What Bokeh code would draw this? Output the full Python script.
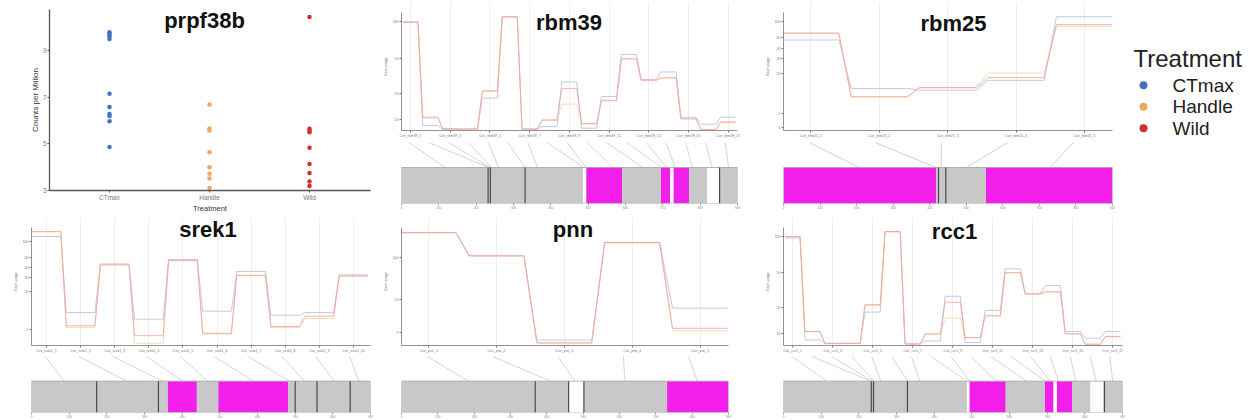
from bokeh.plotting import figure
from bokeh.layouts import row, column
from bokeh.models import FixedTicker, Label
from bokeh.core.properties import value
from bokeh.embed import file_html
from bokeh.resources import INLINE

FONT = "Liberation Sans"

# ---------------- data ----------------
treatments = ["CTmax", "Handle", "Wild"]
cpm_ctmax = [9.78, 9.69, 9.60, 9.49, 7.14, 6.57, 6.28, 6.19, 5.97, 4.86]
cpm_handle = [6.68, 5.65, 5.57, 4.64, 4.00, 3.72, 3.51, 3.11]
cpm_wild = [10.43, 5.64, 5.57, 5.49, 4.83, 4.14, 3.75, 3.39, 3.19]
cpm_ticks = [3, 5, 7, 9]

bar_ticks = [0, 100, 200, 300, 400, 500, 600, 700, 800, 900]

# rbm39
rbm39_ctmax = [99.4, 4.0, 0.6, 0.6, 29.5, 104.7, 0.6, 3.1, 44.4, 1.6, 31.0, 69.9, 46.6, 53.7, 11.8, 5.3, 11.8]
rbm39_handle = [100.0, 11.0, 1.0, 0.9, 35.5, 104.5, 0.9, 8.8, 23.9, 5.5, 27.5, 66.0, 46.2, 48.5, 10.5, 0.5, 7.5]
rbm39_wild = [100.0, 11.8, 1.2, 0.9, 36.3, 104.7, 0.9, 9.3, 38.2, 5.9, 27.0, 65.8, 46.0, 48.1, 10.2, 0.3, 7.1]
rbm39_yticks = [9.3, 34.2, 66.1, 100.0]
rbm39_ylabels = ["10", "20", "50", "100"]
rbm39_seg_start = [0, 486, 495, 591, 695, 720, 729, 770, 819, 851]
rbm39_seg_end = [486, 495, 591, 695, 720, 729, 770, 819, 851, 900]
rbm39_seg_kind = ["region", "gap", "domain", "region", "domain", "gap", "domain", "region", "gap", "region"]
rbm39_seps = [232, 238, 331, 852]
rbm39_fan = [117, 234, 237, 241, 260, 331, 364, 488, 495, 567, 647, 698, 710, 733, 779, 832, 876]

# rbm25
rbm25_ctmax = [82.9, 38.1, 36.6, 45.7, 104.3]
rbm25_handle = [89.5, 30.5, 39.0, 52.4, 95.4]
rbm25_wild = [89.0, 30.5, 39.0, 48.2, 97.0]
rbm25_yticks = [2.4, 15.2, 52.4, 66.2, 74.7, 85.4, 100.0]
rbm25_ylabels = ["1", "5", "20", "30", "40", "60", "100"]
rbm25_seg_start = [0, 418, 554]
rbm25_seg_end = [418, 554, 900]
rbm25_seg_kind = ["domain", "region", "domain"]
rbm25_seps = [424, 444]
rbm25_fan = [207, 418, 431, 501, 729]

# srek1
srek1_ctmax = [105.1, 31.4, 78.5, 25.0, 82.7, 32.7, 71.2, 28.8, 31.4, 67.9]
srek1_handle = [109.5, 17.0, 77.8, 1.6, 82.0, 11.5, 67.5, 17.0, 25.6, 66.9]
srek1_wild = [109.9, 18.6, 77.6, 9.0, 81.7, 10.9, 67.3, 17.9, 27.9, 66.7]
srek1_yticks = [15.4, 51.9, 65.7, 74.7, 84.9, 100.0]
srek1_ylabels = ["5", "20", "30", "40", "60", "100"]
srek1_seg_start = [0, 362, 439, 496, 681]
srek1_seg_end = [362, 439, 496, 681, 900]
srek1_seg_kind = ["region", "domain", "region", "domain", "region"]
srek1_seps = [173, 337, 700, 758, 846]
srek1_fan = [86, 252, 348, 401, 467, 589, 685, 725, 804, 869]

# pnn
pnn_ctmax = [128.8, 102.7, 5.8, 117.3, 42.3]
pnn_handle = [128.8, 102.3, 2.0, 117.0, 16.5]
pnn_wild = [128.5, 101.9, 2.7, 117.3, 19.2]
pnn_yticks = [14.2, 51.9, 100.0]
pnn_ylabels = ["1", "10", "100"]
pnn_seg_start = [0, 460, 502, 731]
pnn_seg_end = [460, 502, 731, 900]
pnn_seg_kind = ["region", "gap", "region", "domain"]
pnn_seps = [368, 460, 502]
pnn_fan = [184, 411, 477, 615, 814]

# rcc1
rcc1_ctmax = [98.8, 4.6, 1.2, 1.5, 30.3, 104.6, 0.9, 3.7, 44.9, 2.2, 31.9, 70.3, 47.4, 54.8, 12.4, 6.2, 12.4]
rcc1_handle = [100.0, 12.0, 1.5, 1.5, 36.5, 104.4, 0.9, 9.8, 24.8, 6.5, 27.3, 66.8, 47.2, 49.3, 10.5, 0.8, 8.0]
rcc1_wild = [100.0, 12.4, 1.5, 1.5, 37.2, 104.6, 0.9, 10.2, 39.3, 6.8, 26.9, 66.6, 47.1, 48.9, 10.2, 0.6, 7.7]
rcc1_yticks = [10.2, 35.0, 66.6, 100.0]
rcc1_ylabels = ["10", "20", "50", "100"]
rcc1_seg_start = [0, 487, 494, 590, 694, 717, 726, 767, 815, 850]
rcc1_seg_end = [487, 494, 590, 694, 717, 726, 767, 815, 850, 900]
rcc1_seg_kind = ["region", "gap", "domain", "region", "domain", "gap", "domain", "region", "gap", "region"]
rcc1_seps = [233, 239, 329, 852]
rcc1_fan = [115, 232, 236, 240, 258, 330, 362, 487, 494, 565, 645, 696, 708, 730, 776, 830, 874]

# ---------------- styles ----------------
DOT_COLORS = {"CTmax": "#3f73bf", "Handle": "#f6a45c", "Wild": "#d62f2a"}
LINE_COLORS = {"CTmax": "#adbde2", "Handle": "#f8d0ab", "Wild": "#f2a096"}
KIND_COLORS = {"region": "#c8c8c8", "domain": "#f11fe9", "gap": "#ffffff"}


def clean(p):
    p.outline_line_color = None
    p.background_fill_color = "white"
    p.border_fill_color = "white"


def gene_panel(gene, ctmax, handle, wild, step, yticks, ylabels, seg_start, seg_end,
               seg_kind, seps, fan, g, fan_color="#c3c3c3"):
    n = len(ctmax)
    x0, x1 = g["x0"], g["x1"]
    y0, y1 = g["y0"], g["y1"]
    w = g["w"]
    # frame reaches up to 2px from the top so the title is not clipped;
    # the y axis line itself stops at the original top
    top_new = 2
    fh_new = g["fh"] + (g["top"] - top_new)
    y1_ext = y1 + (g["top"] - top_new) / g["fh"] * (y1 - y0)
    lp = figure(width=w, height=g["lh"], x_range=(x0, x1), y_range=(y0, y1_ext),
                output_backend="svg", toolbar_location=None,
                min_border_left=g["lb"], min_border_right=w - g["lb"] - g["fw"],
                min_border_top=top_new, min_border_bottom=g["lh"] - top_new - fh_new)
    clean(lp)
    half = g["half"]
    for name, vals in (("CTmax", ctmax), ("Handle", handle), ("Wild", wild)):
        xs, ys = [], []
        for i, v in enumerate(vals):
            xs += [i + 1 - half, i + 1 + half]
            ys += [v, v]
        lp.line(xs, ys, line_color=LINE_COLORS[name], line_width=0.8)
    ex = list(range(1, n + 1, step))
    lp.xaxis.ticker = FixedTicker(ticks=ex)
    lp.xaxis.major_label_overrides = {e: f"Cvir_{gene}_{e}" for e in ex}
    lp.yaxis.ticker = FixedTicker(ticks=yticks)
    lp.yaxis.major_label_overrides = {t: l for t, l in zip(yticks, ylabels)}
    lp.yaxis.bounds = (y0, y1)
    for ax in (lp.xaxis, lp.yaxis):
        ax.major_label_text_font_size = "3.5px"
        ax.major_label_text_color = "#777777"
        ax.major_label_text_font = FONT
        ax.axis_line_color = "#777777"
        ax.axis_line_width = 0.8
        ax.major_tick_line_color = "#777777"
        ax.major_tick_in = 0
        ax.major_tick_out = 2
        ax.minor_tick_line_color = None
        ax.major_label_standoff = 1
    lp.yaxis.axis_label = "Exon usage"
    lp.yaxis.axis_label_text_font_size = "3.5px"
    lp.yaxis.axis_label_text_font_style = "normal"
    lp.yaxis.axis_label_text_color = "#666666"
    lp.yaxis.axis_label_standoff = 2
    lp.xgrid.grid_line_color = "#eeeeee"
    lp.ygrid.grid_line_color = None
    tx, ty = g["title"]
    lp.add_layout(Label(x=x0 + (tx - g["lb"]) / g["fw"] * (x1 - x0),
                        y=y1 - (ty - g["top"]) / g["fh"] * (y1 - y0),
                        text=gene, text_font=FONT, text_font_size="22px",
                        text_font_style="bold", text_align="center",
                        text_baseline="middle", text_color="#111111"))

    bp = figure(width=w, height=g["bh"], x_range=(0, 900), y_range=(0, 1),
                output_backend="svg", toolbar_location=None,
                min_border_left=g["blb"], min_border_right=w - g["blb"] - g["bfw"],
                min_border_top=0, min_border_bottom=g["bbot"])
    clean(bp)
    bt = g["bartop"]
    # fan lines from exon positions (line plot) to genomic positions (bar)
    fx0 = []
    for i in range(n):
        px = g["lb"] + (i + 1 - x0) / (x1 - x0) * g["fw"]
        fx0.append((px - g["blb"]) / g["bfw"] * 900)
    bp.segment(x0=fx0, y0=[0.98] * n, x1=fan, y1=[bt] * n, line_color=fan_color, line_width=0.7)
    bp.quad(left=seg_start, right=seg_end, bottom=0, top=bt,
            fill_color=[KIND_COLORS[k] for k in seg_kind], line_color=None)
    bp.quad(left=[min(seg_start)], right=[max(seg_end)], bottom=[0], top=[bt],
            fill_color=None, line_color="#a0a0a0", line_width=0.8)
    bp.segment(x0=seps, y0=[0] * len(seps), x1=seps, y1=[bt] * len(seps),
               line_color="#4a4a4a", line_width=1.2)
    bp.xaxis.ticker = FixedTicker(ticks=bar_ticks)
    bp.xaxis.major_label_text_font_size = "3px"
    bp.xaxis.major_label_text_color = "#888888"
    bp.xaxis.axis_line_color = None
    bp.xaxis.major_tick_line_color = "#999999"
    bp.xaxis.major_tick_in = 0
    bp.xaxis.major_tick_out = 2
    bp.xaxis.minor_tick_line_color = None
    bp.xaxis.major_label_standoff = 0
    bp.yaxis.visible = False
    bp.xgrid.grid_line_color = None
    bp.ygrid.grid_line_color = None
    return column(lp, bp, spacing=0)


# ---------------- scatter panel ----------------
sw, sh = 380, 215
s_lb, s_fw, s_top, s_fh = 49, 321, 9, 190
s_y0, s_y1 = 3.0, 10.75
sp = figure(width=sw, height=sh, x_range=(0.4, 3.61), y_range=(s_y0, s_y1),
            output_backend="svg", toolbar_location=None,
            min_border_left=s_lb, min_border_right=sw - s_lb - s_fw,
            min_border_top=s_top, min_border_bottom=sh - s_top - s_fh)
clean(sp)
for i, (name, vals) in enumerate(zip(treatments, (cpm_ctmax, cpm_handle, cpm_wild))):
    sp.scatter([i + 1] * len(vals), vals, size=4.5, color=DOT_COLORS[name], line_color=None)
sp.xaxis.ticker = FixedTicker(ticks=[1, 2, 3])
sp.xaxis.major_label_overrides = {i + 1: t for i, t in enumerate(treatments)}
sp.yaxis.ticker = FixedTicker(ticks=cpm_ticks)
for ax in (sp.xaxis, sp.yaxis):
    ax.major_label_text_font_size = "6.5px"
    ax.major_label_text_color = "#777777"
    ax.major_label_text_font = FONT
    ax.axis_line_color = "#555555"
    ax.axis_line_width = 1.3
    ax.major_tick_line_color = "#555555"
    ax.major_tick_in = 0
    ax.major_tick_out = 2
    ax.minor_tick_line_color = None
    ax.major_label_standoff = 1
    ax.axis_label_text_font_size = "8px"
    ax.axis_label_text_font_style = "normal"
    ax.axis_label_text_font = FONT
    ax.axis_label_text_color = "#333333"
    ax.axis_label_standoff = 0
sp.xaxis.axis_label_text_font_size = "7.5px"
sp.xaxis.axis_label = "Treatment"
sp.yaxis.axis_label = "Counts per Million"
sp.xgrid.grid_line_color = None
sp.ygrid.grid_line_color = None
sp.add_layout(Label(x=0.4 + (204 - s_lb) / s_fw * 3.21,
                    y=s_y1 - (20 - s_top) / 181 * (s_y1 - s_y0),
                    text="prpf38b", text_font=FONT, text_font_size="22px",
                    text_font_style="bold", text_align="center", text_baseline="middle",
                    text_color="#111111"))

# ---------------- legend panel ----------------
lw = 127
lg = figure(width=lw, height=sh, x_range=(0, lw), y_range=(sh, 0),
            output_backend="svg", toolbar_location=None, min_border=0)
clean(lg)
lg.axis.visible = False
lg.grid.grid_line_color = None
lg.text(x=[5], y=[58], text=["Treatment"], text_font=value(FONT), text_font_size="24px",
        text_baseline="middle", text_color="#222222")
ly = [90 + 25.5 * i for i in range(len(treatments))]
lg.scatter([15] * len(treatments), ly, size=8, color=[DOT_COLORS[t] for t in treatments], line_color=None)
lg.text(x=[44] * len(treatments), y=ly, text=treatments, text_font=value(FONT),
        text_font_size="19px", text_baseline="middle", text_color="#222222")

# ---------------- geometry ----------------
TOP = dict(lh=141, top=12, fh=118, bh=74, bbot=12, bartop=0.58)
BOT = dict(lh=140, top=12, fh=118, bh=65, bbot=4, bartop=0.55)

g_rbm39 = dict(TOP, w=380, lb=18, fw=339, blb=19, bfw=341, x0=0.55, x1=17.47, half=0.38,
               y0=-0.5, y1=108.7, title=(187, 22))
g_rbm25 = dict(TOP, w=368, lb=23, fw=329, blb=23, bfw=342, x0=0.6, x1=5.41, half=0.41,
               y0=-0.5, y1=108.2, title=(193, 23))
g_srek1 = dict(BOT, w=380, lb=30, fw=340, blb=31, bfw=343, x0=0.56, x1=10.5, half=0.42,
               y0=-0.5, y1=113.8, title=(207, 14))
g_pnn = dict(BOT, w=380, lb=18, fw=330, blb=18, bfw=343, x0=0.6, x1=5.42, half=0.405,
             y0=-0.5, y1=134.6, title=(191, 14))
g_rcc1 = dict(BOT, w=368, lb=23, fw=339, blb=23, bfw=342, x0=0.55, x1=17.48, half=0.38,
              y0=-0.5, y1=108.4, title=(194, 16))

rbm39_p = gene_panel("rbm39", rbm39_ctmax, rbm39_handle, rbm39_wild, 2, rbm39_yticks, rbm39_ylabels,
                     rbm39_seg_start, rbm39_seg_end, rbm39_seg_kind, rbm39_seps, rbm39_fan, g_rbm39)
rbm25_p = gene_panel("rbm25", rbm25_ctmax, rbm25_handle, rbm25_wild, 1, rbm25_yticks, rbm25_ylabels,
                     rbm25_seg_start, rbm25_seg_end, rbm25_seg_kind, rbm25_seps, rbm25_fan, g_rbm25,
                     fan_color="#e8a9ad")
srek1_p = gene_panel("srek1", srek1_ctmax, srek1_handle, srek1_wild, 1, srek1_yticks, srek1_ylabels,
                     srek1_seg_start, srek1_seg_end, srek1_seg_kind, srek1_seps, srek1_fan, g_srek1)
pnn_p = gene_panel("pnn", pnn_ctmax, pnn_handle, pnn_wild, 1, pnn_yticks, pnn_ylabels,
                   pnn_seg_start, pnn_seg_end, pnn_seg_kind, pnn_seps, pnn_fan, g_pnn)
rcc1_p = gene_panel("rcc1", rcc1_ctmax, rcc1_handle, rcc1_wild, 2, rcc1_yticks, rcc1_ylabels,
                    rcc1_seg_start, rcc1_seg_end, rcc1_seg_kind, rcc1_seps, rcc1_fan, g_rcc1)

layout = column(
    row(sp, rbm39_p, rbm25_p, lg, spacing=0),
    row(srek1_p, pnn_p, rcc1_p, spacing=0),
    spacing=0,
)

open("out.html", "w").write(file_html(layout, INLINE))
